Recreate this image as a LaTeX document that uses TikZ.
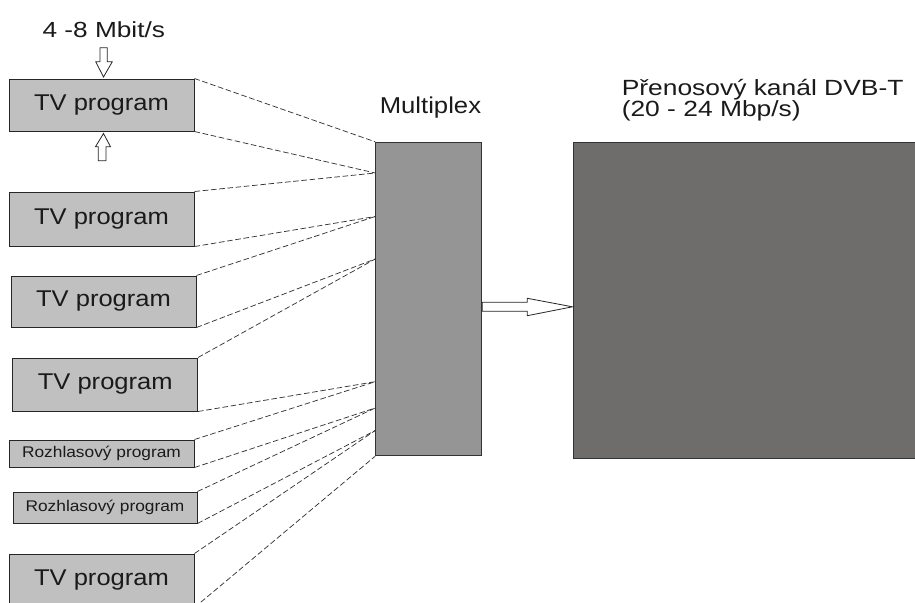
\documentclass[tikz,border=0pt]{standalone}
\usepackage{fontspec}
\setmainfont{Liberation Sans}
\newfontfamily\boxfont[FakeStretch=1.12]{Liberation Sans}
\newfontfamily\widefont[FakeStretch=1.2]{Liberation Sans}
\usetikzlibrary{calc}

\definecolor{progfill}{HTML}{C0C0C0}
\definecolor{muxfill}{HTML}{959595}
\definecolor{chanfill}{HTML}{6E6D6B}
\definecolor{inkcol}{HTML}{1A1A1A}
\lineskiplimit=-20pt\relax

\begin{document}
\begin{tikzpicture}[x=0.75pt,y=-0.75pt,
  prog/.style={draw=black!85, line width=0.75pt, fill=progfill, inner sep=0pt, text=inkcol},
  tvlabel/.style={font=\boxfont\fontsize{17.1}{20}\selectfont},
  radiolabel/.style={font=\boxfont\fontsize{11.6}{13}\selectfont},
  caption/.style={inner sep=0pt, text=inkcol},
  feed/.style={draw=black!80, line width=0.55pt, dash pattern=on 4.2pt off 2pt},
  blockarrow/.style={draw=black!85, line width=0.6pt, fill=white, line join=miter},
]
\useasboundingbox (0,0) rectangle (915,603);
\clip (0,0) rectangle (915,603);

% programme sources
\node[prog, tvlabel, minimum width=138.75pt, minimum height=39pt]    (b1) at (101.5,105)   {TV program};
\node[prog, tvlabel, minimum width=138.75pt, minimum height=40.5pt]  (b2) at (101.5,219)   {TV program};
\node[prog, tvlabel, minimum width=138.75pt, minimum height=38.25pt] (b3) at (103.5,301.5) {TV program};
\node[prog, tvlabel, minimum width=138.4pt,  minimum height=39.75pt] (b4) at (105.25,384.5){TV program};
\node[prog, radiolabel, minimum width=138.75pt, minimum height=20.25pt] (b5) at (101.5,453.5) {Rozhlasový program};
\node[prog, radiolabel, minimum width=138pt,    minimum height=23.25pt] (b6) at (105,507.5)   {Rozhlasový program};
\node[prog, tvlabel, minimum width=138.75pt, minimum height=39.75pt] (b7) at (101.5,580.5) {TV program};

% multiplexer and transmission channel
\node[draw=black!80, line width=0.75pt, fill=muxfill, minimum width=79.5pt, minimum height=235.05pt, inner sep=0pt] (mux) at (428.7,299) {};
\node[draw=black!80, line width=0.75pt, fill=chanfill, minimum width=267.75pt, minimum height=237pt, inner sep=0pt] (dvb) at (751.5,300.3) {};

% captions
\node[caption, anchor=base west, font=\widefont\fontsize{16.4}{18}\selectfont] (rate) at (42.3,37.3) {4 -8 Mbit/s};
\node[caption, anchor=base west, font=\boxfont\fontsize{17.2}{20}\selectfont] (muxlabel) at (379.5,113.3) {Multiplex};
\node[caption, anchor=north west, align=left,
      font=\widefont\fontsize{16.5}{15.6}\selectfont] (chanlabel) at (621.5,79.3)
      {Přenosový kanál DVB-T\\(20 - 24 Mbp/s)};

% inputs on the multiplexer edge
\coordinate (m1) at (mux.west |- 0,173);
\coordinate (m2) at (mux.west |- 0,216.5);
\coordinate (m3) at (mux.west |- 0,259);
\coordinate (m4) at (mux.west |- 0,381.7);
\coordinate (m5) at (mux.west |- 0,408);
\coordinate (m6) at (mux.west |- 0,430.5);

% dashed feeds
\draw[feed] (b1.north east) -- (mux.north west);
\draw[feed] (b1.south east) -- (m1);
\draw[feed] (b2.north east) -- (m1);
\draw[feed] (b2.south east) -- (m2);
\draw[feed] (b3.north east) -- (m2);
\draw[feed] (b3.south east) -- (m3);
\draw[feed] (b4.north east) -- (m3);
\draw[feed] (b4.south east) -- (m4);
\draw[feed] (b5.north east) -- (m4);
\draw[feed] (b5.south east) -- (m5);
\draw[feed] (b6.north east) -- (m5);
\draw[feed] (b6.south east) -- (m6);
\draw[feed] (b7.north east) -- (m6);
\draw[feed] (b7.south east) -- (mux.south west);

% bit-rate arrows at the first programme
\draw[blockarrow] (100,47.7) -- (107.3,47.7) -- (107.3,61.7) -- (112.3,61.7)
  -- ($(b1.north)+(2,-1.5)$) -- (95.7,61.7) -- (100,61.7) -- cycle;
\draw[blockarrow] (98.3,160.7) -- (106,160.7) -- (106,146.7) -- (110.5,146.7)
  -- ($(b1.south)+(2,2)$) -- (95.5,146.7) -- (98.3,146.7) -- cycle;

% multiplex output into the channel
\draw[blockarrow] ($(mux.east)+(0,3.3)$) -- (527.3,302.3) -- (527.3,298.3)
  -- ($(dvb.west)+(0,6.5)$) -- (527.3,315.7) -- (527.3,311.3)
  -- ($(mux.east)+(0,12.3)$) -- cycle;
\end{tikzpicture}
\end{document}
